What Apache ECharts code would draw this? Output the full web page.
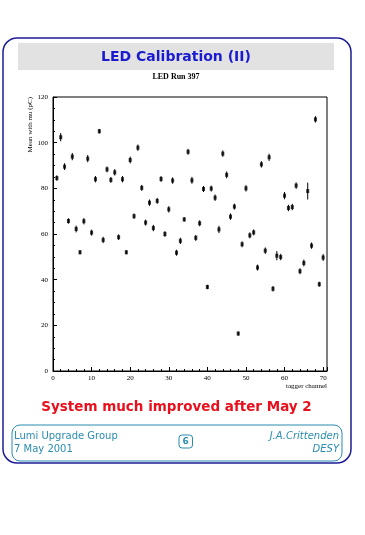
<!DOCTYPE html>
<html>
<head>
<meta charset="utf-8">
<script src="https://cdn.jsdelivr.net/npm/echarts@6/dist/echarts.min.js"></script>
<style>html,body{margin:0;padding:0;background:#fff;}#c{width:365px;height:535px;}</style>
</head>
<body>
<div id="c"></div>
<script>
var channels = [1,2,3,4,5,6,7,8,9,10,11,12,13,14,15,16,17,18,19,20,21,22,23,24,25,26,27,28,29,30,31,32,33,34,35,36,37,38,39,40,41,42,43,44,45,46,47,48,49,50,51,52,53,54,55,56,57,58,59,60,61,62,63,64,65,66,67,68,69,70];
var means = [84.5,102.4,89.5,65.7,93.9,62.2,52.0,65.6,93.0,60.6,84.0,105.0,57.4,88.3,83.7,87.0,58.6,84.0,52.0,92.4,67.8,97.8,80.2,65.0,73.7,62.6,74.5,84.1,60.0,70.8,83.4,51.8,57.0,66.4,96.0,83.5,58.3,64.7,79.7,36.8,79.9,75.9,62.0,95.2,85.9,67.6,72.0,16.4,55.5,80.0,59.4,60.7,45.3,90.5,52.7,93.6,36.0,50.5,49.9,76.8,71.4,71.8,81.2,43.7,47.3,78.8,54.9,110.2,38.0,49.7];
var errors = [1.2,1.8,1.5,1.2,1.6,1.5,0.9,1.4,1.6,1.3,1.4,1.0,1.4,1.3,1.3,1.4,1.2,1.4,0.9,1.5,1.2,1.4,1.3,1.3,1.4,1.4,1.3,1.3,1.3,1.4,1.4,1.3,1.4,1.0,1.3,1.5,1.3,1.3,1.3,1.0,1.3,1.4,1.6,1.4,1.5,1.4,1.3,0.9,1.3,1.4,1.3,1.3,1.3,1.4,1.4,1.6,1.2,2.0,1.4,1.6,1.4,1.4,1.4,1.3,1.5,3.7,1.4,1.4,1.1,1.5];
var xTicks = [0,10,20,30,40,50,60,70];
var yTicks = [0,20,40,60,80,100,120];

var pts = channels.map(function(c,i){ return [c, means[i], errors[i]]; });

var chart = echarts.init(document.getElementById('c'), null, {renderer:'canvas'});
var serif = 'Liberation Serif';
var sans = 'DejaVu Sans';
var teal = '#2a8cb0';
chart.setOption({
  backgroundColor:'#fff',
  animation:false,
  grid:{left:53, right:38, top:97, bottom:164, show:true, borderColor:'#000', borderWidth:1},
  xAxis:{type:'value', min:0, max:71, interval:10, splitLine:{show:false},
    axisLine:{lineStyle:{color:'#000', width:1}},
    axisTick:{inside:true, length:4, lineStyle:{color:'#000'}},
    minorTick:{show:true, splitNumber:5, length:2, lineStyle:{color:'#000'}},
    axisLabel:{fontFamily:serif, fontSize:7, color:'#000', margin:4,
      formatter:function(v){ return xTicks.indexOf(v)>=0 ? String(v) : ''; }},
    name:'tagger channel', nameLocation:'end', nameGap:0,
    nameTextStyle:{fontFamily:serif, fontSize:7, color:'#000', align:'right', verticalAlign:'top', padding:[12,0,0,0]}
  },
  yAxis:{type:'value', min:0, max:120, interval:20, splitLine:{show:false},
    axisLine:{show:true, lineStyle:{color:'#000', width:1}},
    axisTick:{inside:true, length:4, lineStyle:{color:'#000'}},
    minorTick:{show:true, splitNumber:4, length:2, lineStyle:{color:'#000'}},
    axisLabel:{fontFamily:serif, fontSize:7, color:'#000', margin:5,
      formatter:function(v){ return yTicks.indexOf(v)>=0 ? String(v) : ''; }}
  },
  series:[
    {type:'custom', data:pts, z:2,
      renderItem:function(params, api){
        var x = api.value(0), y = api.value(1), e = api.value(2);
        var p1 = api.coord([x, y-e]), p2 = api.coord([x, y+e]);
        return {type:'line', shape:{x1:p1[0], y1:p1[1], x2:p2[0], y2:p2[1]}, style:{stroke:'#000', lineWidth:1}};
      },
      encode:{x:0, y:1}
    },
    {type:'scatter', data:pts, symbol:'rect', symbolSize:[3,4], itemStyle:{color:'#000'}, z:3, encode:{x:0,y:1}}
  ],
  graphic:[
    {type:'rect', shape:{x:3, y:38, width:348, height:425, r:14}, style:{fill:'none', stroke:'#1e1e96', lineWidth:1.5}, z:-10},
    {type:'rect', shape:{x:18, y:43, width:316, height:27}, style:{fill:'#e2e2e2'}, z:-9},
    {type:'text', x:176, y:57, style:{text:'LED Calibration (II)', fontFamily:sans, fontWeight:'bold', fontSize:14, fill:'#1a1ad0', align:'center', verticalAlign:'middle'}},
    {type:'text', x:176, y:77, style:{text:'LED Run 397', fontFamily:serif, fontWeight:'bold', fontSize:8, fill:'#000', align:'center', verticalAlign:'middle'}},
    {type:'text', x:30, y:97, rotation:Math.PI/2, style:{text:'Mean with mu (pC)', fontFamily:serif, fontSize:7, fill:'#000', align:'right', verticalAlign:'middle'}},
    {type:'text', x:176.5, y:407, style:{text:'System much improved after May 2', fontFamily:sans, fontWeight:'bold', fontSize:13.5, fill:'#e8101c', align:'center', verticalAlign:'middle'}},
    {type:'rect', shape:{x:12, y:425, width:330, height:36, r:8}, style:{fill:'none', stroke:teal, lineWidth:1}},
    {type:'text', x:14, y:436, style:{text:'Lumi Upgrade Group', fontFamily:sans, fontSize:10, fill:teal, align:'left', verticalAlign:'middle'}},
    {type:'text', x:14, y:449, style:{text:'7 May 2001', fontFamily:sans, fontSize:10, fill:teal, align:'left', verticalAlign:'middle'}},
    {type:'rect', shape:{x:179, y:435, width:13.5, height:13, r:3}, style:{fill:'none', stroke:teal, lineWidth:1}},
    {type:'text', x:185.7, y:441.8, style:{text:'6', fontFamily:sans, fontWeight:'bold', fontSize:9, fill:teal, align:'center', verticalAlign:'middle'}},
    {type:'text', x:339, y:436, style:{text:'J.A.Crittenden', fontFamily:sans, fontStyle:'italic', fontSize:10, fill:teal, align:'right', verticalAlign:'middle'}},
    {type:'text', x:339, y:449, style:{text:'DESY', fontFamily:sans, fontStyle:'italic', fontSize:10, fill:teal, align:'right', verticalAlign:'middle'}}
  ]
});
</script>
</body>
</html>
